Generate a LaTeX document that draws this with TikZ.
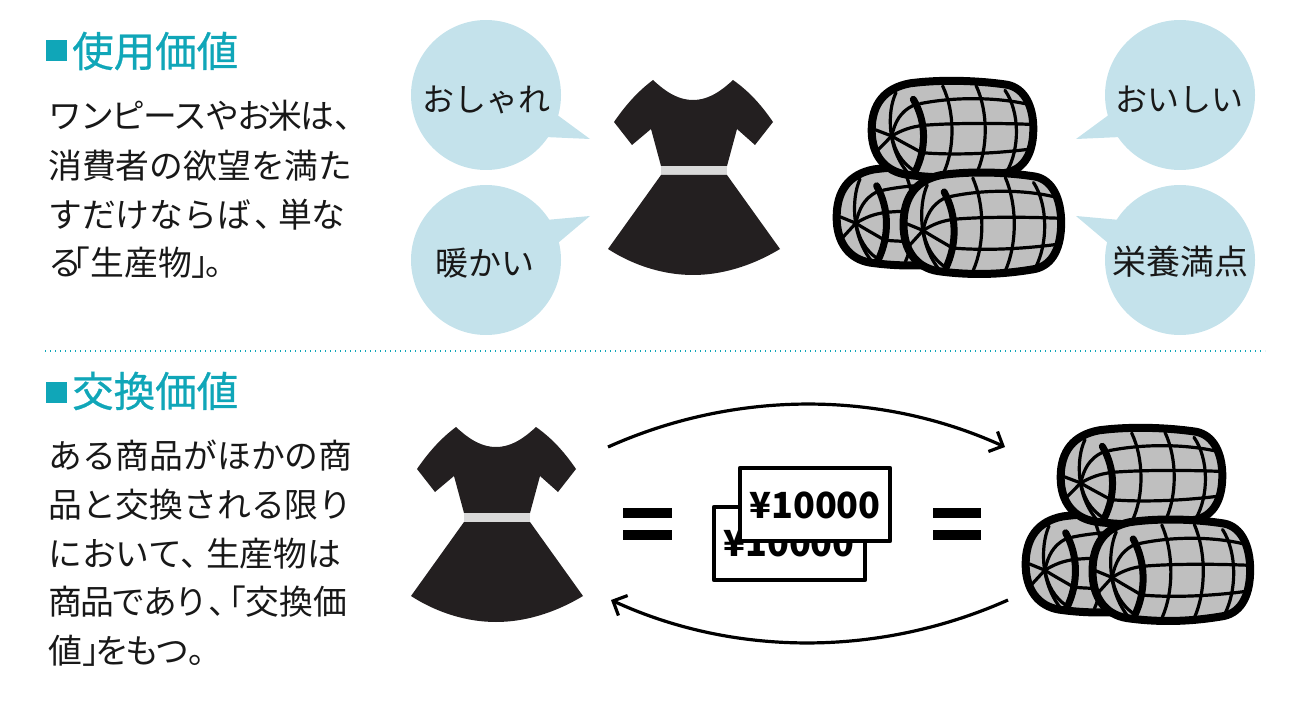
\documentclass[tikz,border=0pt]{standalone}
\usepackage{fontspec}
\usetikzlibrary{arrows.meta}
\newfontfamily\cjk{Noto Sans CJK JP}
\newfontfamily\cjktight[LetterSpace=-6]{Noto Sans CJK JP}
\newfontfamily\cjktighter[LetterSpace=-10]{Noto Sans CJK JP}
\newfontfamily\cjktitle[FakeBold=0.6]{Noto Sans CJK JP}
\definecolor{teal1}{HTML}{10A6B8}
\definecolor{bub}{HTML}{C4E2EB}
\definecolor{ink}{HTML}{181818}
\definecolor{dressc}{HTML}{231F20}
\definecolor{beltc}{HTML}{D9D9D9}
\definecolor{ricec}{HTML}{BFBFBF}
\tikzset{
 body/.style={anchor=west,inner sep=0pt,text=ink,font=\cjk\fontsize{33.8}{40}\selectfont},
 bubtext/.style={inner sep=0pt,text=ink,font=\cjk\fontsize{32}{38}\selectfont},
 title/.style={anchor=west,inner sep=0pt,text=teal1,font=\cjktitle\fontsize{41.5}{48}\selectfont},
 bubble/.style={fill=bub,draw=none},
 exch/.style={line width=3.2pt,-{Straight Barb[length=11pt,width=22pt,line width=3.2pt]},black},
 bill/.style={draw=black,fill=white,line width=4.5pt,line join=round},
 billtext/.style={inner sep=0pt,text=black,font=\cjk\bfseries\fontsize{36}{44}\selectfont},
 eqbar/.style={fill=black,draw=none},
 marker/.style={fill=teal1,inner sep=0pt,minimum width=21pt,minimum height=21pt},
 dresspic/.pic={
  \fill[dressc] (653,80) .. controls (668,94) and (680,100) .. (693,100) .. controls (706,100) and (718,94) .. (733,80)
   .. controls (750,92) and (762,106) .. (773,122) -- (755,145) -- (737,129) -- (727,166) -- (661,166) -- (651,129) -- (632,145) -- (614,122) .. controls (625,106) and (637,92) .. (653,80) -- cycle;
  \fill[beltc] (661,166) rectangle (727,175);
  \fill[dressc] (661,175) -- (727,175) -- (780,249) .. controls (750,267) and (720,275) .. (693,275)
   .. controls (666,275) and (636,267) .. (608,249) -- cycle;
 },
 balepic/.pic={
  \begin{scope}[line cap=round,line join=round]
  \filldraw[fill=ricec,draw=black,line width=8pt] (270,64) .. controls (360,52) and (470,55) .. (560,68)
    .. controls (615,78) and (640,135) .. (640,200) .. controls (640,270) and (615,320) .. (560,332)
    .. controls (450,350) and (350,350) .. (260,338) .. controls (195,328) and (155,280) .. (155,205)
    .. controls (155,125) and (195,78) .. (270,64) -- cycle;
  \draw[black,line width=3.2pt] (228,92) .. controls (200,150) and (200,270) .. (275,345);
  \draw[black,line width=3.2pt] (300,125) .. controls (400,105) and (520,105) .. (615,125);
  \draw[black,line width=3.2pt] (310,190) .. controls (400,183) and (520,183) .. (630,187);
  \draw[black,line width=3.2pt] (305,272) .. controls (400,280) and (520,275) .. (625,262);
  \draw[black,line width=3.2pt] (368,72) .. controls (405,150) and (405,260) .. (370,335);
  \draw[black,line width=3.2pt] (468,70) .. controls (505,150) and (505,260) .. (468,338);
  \draw[black,line width=3.2pt] (555,85) .. controls (600,150) and (600,260) .. (560,330);
  \draw[black,line width=3.2pt] (215,222) -- (165,203);
  \draw[black,line width=3.2pt] (215,222) -- (170,268);
  \draw[black,line width=3.2pt] (215,222) .. controls (225,180) and (240,150) .. (280,130);
  \draw[black,line width=3.2pt] (215,222) .. controls (245,205) and (270,195) .. (310,190);
  \draw[black,line width=3.2pt] (215,222) .. controls (245,240) and (275,255) .. (305,272);
  \draw[black,line width=3.2pt] (215,222) .. controls (225,270) and (245,300) .. (280,325);
  \draw[black,line width=7pt] (280,112) .. controls (320,180) and (320,260) .. (285,330);
  \end{scope}
 }
}
\begin{document}
\begin{tikzpicture}[x=1pt,y=-1pt]
\useasboundingbox (0,0) rectangle (1309,703);
% --- upper section
\node[marker] (sq1) at (56,51) {};
\node[title] (t1) at (72,51) {使用価値};
\node[body] (a1) at (48,116) {{\cjktight ワンピースやお米は}、};
\node[body] (a2) at (48,166) {消費者の欲望を満た};
\node[body] (a3) at (48,215) {すだけならば\hspace{0.1em}、\hspace{-0.3em}単な};
\node[body] (a4) at (48,263) {る\hspace{-0.75em}「生産物」\hspace{-0.6em}。};
% bubbles
\fill[bubble] (486,95) circle (75);
\fill[bubble] (556,114) -- (590,139) -- (545,137) -- cycle;
\fill[bubble] (486,260) circle (75);
\fill[bubble] (546,220) -- (590,216) -- (558,243) -- cycle;
\fill[bubble] (1180,95) circle (75);
\fill[bubble] (1110,114) -- (1076,139) -- (1121,137) -- cycle;
\fill[bubble] (1180,260) circle (75);
\fill[bubble] (1120,220) -- (1076,216) -- (1108,243) -- cycle;
\node[bubtext] (b1) at (486.5,100) {おしゃれ};
\node[bubtext,font=\cjk\fontsize{33}{38}\selectfont] (b2) at (485,263) {暖かい};
\node[bubtext] (b3) at (1179,100) {おいしい};
\node[bubtext,font=\cjk\fontsize{34}{38}\selectfont] (b4) at (1180,262) {栄養満点};
\pic at (0,0) {dresspic};
\begin{scope}[shift={(820,60)},x=0.3333pt,y=-0.3333pt]
\pic[x=0.32pt,y=-0.34pt] at (-103,258) {balepic};
\pic at (0,6) {balepic};
\pic[x=0.325pt,y=-0.35pt] at (102,265) {balepic};
\end{scope}
% divider
\draw[teal1,line width=1.4pt,dash pattern=on 1.4pt off 3.6pt] (45,351) -- (1265,351);
% --- lower section
\node[marker] (sq2) at (56,392) {};
\node[title] (t2) at (72,391) {交換価値};
\node[body] (c1) at (48,456) {ある商品がほかの商};
\node[body] (c2) at (48,505) {品と交換される限り};
\node[body] (c3) at (48,554) {において、\hspace{-0.25em}生産物は};
\node[body] (c4) at (48,602) {{\cjktight 商品であり}、\hspace{-0.9em}「交換価};
\node[body] (c5) at (48,651) {値」\hspace{-0.6em}{\cjktighter をもつ}。};
\pic at (-197,347) {dresspic};
\begin{scope}[shift={(1009,407)},x=0.3333pt,y=-0.3333pt]
\pic[x=0.32pt,y=-0.34pt] at (-103,258) {balepic};
\pic at (0,6) {balepic};
\pic[x=0.325pt,y=-0.35pt] at (102,265) {balepic};
\end{scope}
% equals
\fill[eqbar] (623,508) rectangle (672,518);
\fill[eqbar] (623,530) rectangle (672,540);
\fill[eqbar] (933,508) rectangle (981,518);
\fill[eqbar] (933,530) rectangle (981,540);
% money
\node[bill,minimum width=151pt,minimum height=73pt,inner sep=0pt] (billb) at (789.5,543.5) {};
\node[billtext] (billbt) at (789,543) {¥10000};
\node[bill,minimum width=150pt,minimum height=73pt,inner sep=0pt] (billf) at (815,504.5) {};
\node[billtext] (billft) at (815,505) {¥10000};
% exchange arrows
\coordinate (lt) at (608,447);
\coordinate (rt) at (1005,447);
\coordinate (rb) at (1008,600);
\coordinate (lb) at (611,600);
\draw[exch] (lt) .. controls (735,390) and (880,390) .. (rt);
\draw[exch] (rb) .. controls (880,657) and (735,657) .. (lb);
\end{tikzpicture}
\end{document}
